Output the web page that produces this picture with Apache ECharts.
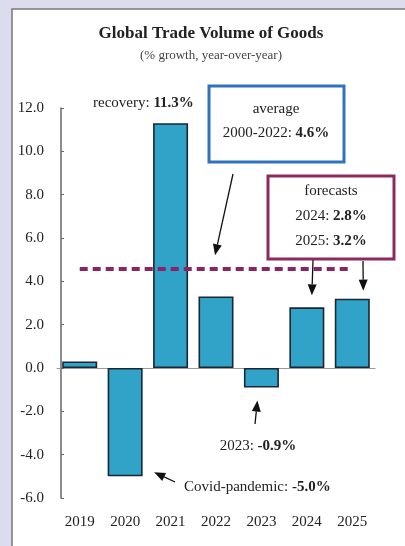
<!DOCTYPE html>
<html lang="en">
<head>
    <meta charset="UTF-8">
    <title>Global Trade Volume of Goods</title>
    <style>
        html, body { margin: 0; padding: 0; background: #dcdcef; }
        #root { width: 405px; height: 546px; }
    </style>
</head>
<body>
    <div id="root"></div>
    <script src="https://cdn.jsdelivr.net/npm/echarts@6/dist/echarts.min.js"></script>
    <script>
        // data
        var years = ["2019", "2020", "2021", "2022", "2023", "2024", "2025"];
        var growth = [0.3, -5.0, 11.3, 3.3, -0.9, 2.8, 3.2];
        var average = 4.6; // 2000-2022
        var yTicks = { min: -6, max: 12, step: 2 };

        var serif = "Liberation Serif";
        var ink = "#222";
        var fs = 15;

        function fmt(v) { return v.toFixed(1) + "%"; }

        var option = {
            backgroundColor: "#dcdcef",
            animation: false,
            title: {
                text: "Global Trade Volume of Goods",
                subtext: "(% growth, year-over-year)",
                left: 206, top: 20, textAlign: "center",
                itemGap: 7,
                textStyle: { fontFamily: serif, fontSize: 17, fontWeight: "bold", color: ink },
                subtextStyle: { fontFamily: serif, fontSize: 13, color: "#444" }
            },
            grid: { left: 57, right: 30, top: 108, bottom: 48 },
            xAxis: [
                {
                    type: "category",
                    data: years,
                    axisLine: { onZero: true, lineStyle: { color: "#999", width: 1 } },
                    axisTick: { inside: true, length: 3, lineStyle: { color: "#888" } },
                    axisLabel: { show: false }
                },
                {
                    type: "category",
                    data: years,
                    position: "bottom",
                    axisLine: { show: false, onZero: false },
                    axisTick: { show: false },
                    axisLabel: { margin: 17, fontFamily: serif, fontSize: fs, color: ink }
                }
            ],
            yAxis: {
                type: "value",
                min: yTicks.min, max: yTicks.max, interval: yTicks.step,
                offset: -4,
                splitLine: { show: false },
                axisLine: { show: true, lineStyle: { color: "#666", width: 1.5 } },
                axisTick: { show: true, inside: true, length: 3, lineStyle: { color: "#666" } },
                axisLabel: {
                    margin: 17, fontFamily: serif, fontSize: fs, color: ink,
                    formatter: function (v) { return v.toFixed(1); }
                }
            },
            series: [
                {
                    type: "bar",
                    data: growth,
                    barWidth: 35,
                    itemStyle: { color: "#31a2c8", borderColor: "#1b2733", borderWidth: 1.6 },
                    markLine: {
                        silent: true,
                        symbol: "none",
                        label: { show: false },
                        lineStyle: { type: [8, 5], width: 4, color: "#8c2463" },
                        data: [[{ coord: [years[0], average] }, { coord: [years[6], average] }]]
                    }
                }
            ]
        };

        var instance = echarts.init(document.getElementById("root"));
        instance.setOption(option);

        function px(i, v) {
            return instance.convertToPixel({ gridIndex: 0 }, [years[i], v]);
        }

        function arrow(x1, y1, x2, y2) {
            var a = Math.atan2(y2 - y1, x2 - x1);
            var L = 11, W = 4.5;
            var bx = x2 - L * Math.cos(a), by = y2 - L * Math.sin(a);
            return [
                { type: "line", shape: { x1: x1, y1: y1, x2: bx, y2: by }, style: { stroke: "#111", lineWidth: 1.3 }, z: 10 },
                {
                    type: "polygon",
                    shape: { points: [[x2, y2], [bx - W * Math.sin(a), by + W * Math.cos(a)], [bx + W * Math.sin(a), by - W * Math.cos(a)]] },
                    style: { fill: "#111" }, z: 10
                }
            ];
        }

        function label(x, y, parts, align) {
            return {
                type: "text", x: x, y: y, z: 10,
                style: {
                    text: parts,
                    align: align || "center", verticalAlign: "middle",
                    fontFamily: serif, fontSize: fs, fill: ink,
                    rich: {
                        n: { fontFamily: serif, fontSize: fs, color: ink },
                        b: { fontFamily: serif, fontSize: fs, color: ink, fontWeight: "bold" }
                    }
                }
            };
        }

        var p2020 = px(1, growth[1]);
        var p2023 = px(4, growth[4]);
        var p2024 = px(5, growth[5]);
        var p2025 = px(6, growth[6]);
        var avgY = px(0, average)[1];

        var g = [
            // panel
            { type: "rect", shape: { x: 12, y: 9, width: 400, height: 540 }, style: { fill: "#fff", stroke: "#7a7a7a", lineWidth: 1.5 }, z: -10 },
            // average box
            { type: "rect", shape: { x: 209, y: 86, width: 135, height: 76 }, style: { fill: "#fff", stroke: "#2f72c0", lineWidth: 3 }, z: 9 },
            label(276, 109, "{n|average}"),
            label(276, 133, "{n|2000-2022: }{b|" + fmt(average) + "}"),
            // forecast box
            { type: "rect", shape: { x: 268, y: 176, width: 126, height: 83 }, style: { fill: "#fff", stroke: "#8c2a5e", lineWidth: 3 }, z: 9 },
            label(331, 191, "{n|forecasts}"),
            label(331, 216, "{n|" + years[5] + ": }{b|" + fmt(growth[5]) + "}"),
            label(331, 241, "{n|" + years[6] + ": }{b|" + fmt(growth[6]) + "}"),
            // other notes
            label(93, 103, "{n|recovery: }{b|" + fmt(growth[2]) + "}", "left"),
            label(258, 446, "{n|" + years[4] + ": }{b|" + fmt(growth[4]) + "}"),
            label(184, 487, "{n|Covid-pandemic: }{b|" + fmt(growth[1]) + "}", "left")
        ];
        g = g.concat(arrow(233, 174, 215, avgY - 13));
        g = g.concat(arrow(313, 260, p2024[0] + 5, p2024[1] - 12));
        g = g.concat(arrow(363, 261, p2025[0] + 11, p2025[1] - 8));
        g = g.concat(arrow(255, 424, p2023[0] - 4, p2023[1] + 13));
        g = g.concat(arrow(175, 482, p2020[0] + 29, p2020[1] - 4));

        instance.setOption({ graphic: g });
    </script>
</body>
</html>
